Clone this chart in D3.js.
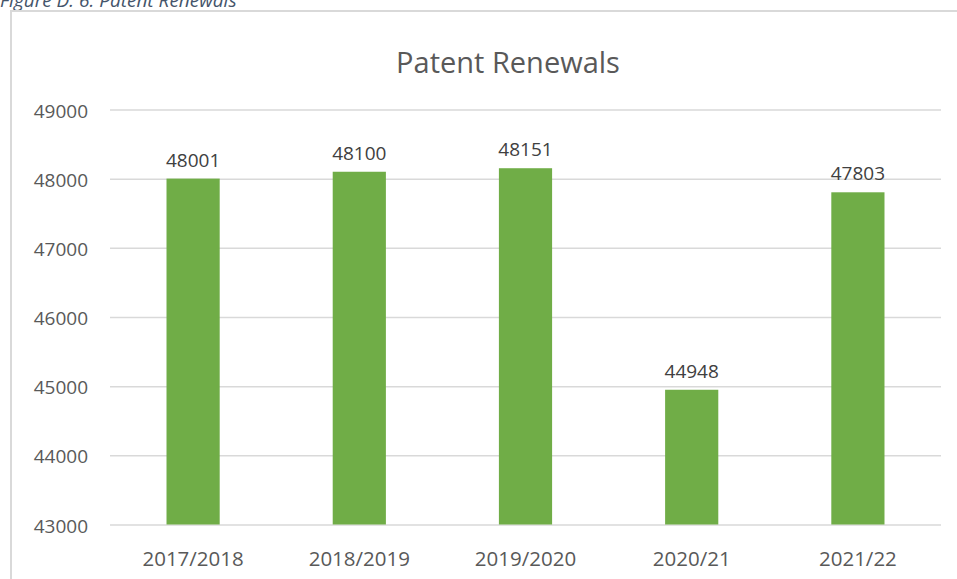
<!DOCTYPE html>
<html>
<head>
<meta charset="utf-8">
<script src="https://cdn.jsdelivr.net/npm/d3@7"></script>
<style>
  body { margin: 0; background: #fff; }
  text { font-family: "Open Sans", "Liberation Sans", sans-serif; }
</style>
</head>
<body>
<div id="chart"></div>
<script>
// Data
const years = ["2017/2018", "2018/2019", "2019/2020", "2020/21", "2021/22"];
const renewals = [48001, 48100, 48151, 44948, 47803];
const yTicks = [43000, 44000, 45000, 46000, 47000, 48000, 49000];

const data = years.map((y, i) => ({ year: y, value: renewals[i] }));

const width = 957, height = 579;
const margins = { top: 109.5, right: 16, bottom: 54.5, left: 110 };

const svg = d3.select("#chart")
  .append("svg")
  .attr("width", width)
  .attr("height", height);

// caption of the figure, cut off at the top
svg.append("text")
  .attr("x", 0)
  .attr("y", 7)
  .style("font-style", "italic")
  .style("font-size", "19px")
  .attr("fill", "#44546A")
  .text("Figure D. 6: Patent Renewals");

// chart frame (right and bottom edges are off the picture)
svg.append("path")
  .attr("d", `M11,${height + 5} V11 H${width + 5}`)
  .attr("fill", "none")
  .attr("stroke", "#d9d9d9")
  .attr("stroke-width", 2);

const xScale = d3.scaleBand()
  .domain(years)
  .range([margins.left, width - margins.right])
  .paddingInner(0.68)
  .paddingOuter(0.34);

const yScale = d3.scaleLinear()
  .domain([43000, 49000])
  .range([height - margins.bottom, margins.top]);

// gridlines + y labels
const yAxis = d3.axisLeft(yScale)
  .tickValues(yTicks)
  .tickFormat(d3.format("d"))
  .tickSize(-(width - margins.right - margins.left))
  .tickPadding(22);

svg.append("g")
  .attr("transform", `translate(${margins.left},0)`)
  .call(yAxis)
  .call(g => g.select(".domain").remove())
  .call(g => g.selectAll(".tick line").attr("stroke", "#d9d9d9").attr("stroke-width", 1.5))
  .call(g => g.selectAll(".tick text")
    .attr("fill", "#595959")
    .style("font-size", "19px")
    .attr("dy", "0.4em")
    .style("font-family", "'Open Sans', sans-serif"));

// bars
svg.append("g")
  .selectAll("rect")
  .data(data)
  .join("rect")
  .attr("x", d => xScale(d.year))
  .attr("y", d => yScale(d.value))
  .attr("width", xScale.bandwidth())
  .attr("height", d => yScale(43000) - yScale(d.value))
  .attr("fill", "#70AD47");

// value labels
svg.append("g")
  .selectAll("text")
  .data(data)
  .join("text")
  .attr("x", d => xScale(d.year) + xScale.bandwidth() / 2)
  .attr("y", d => yScale(d.value) - 12)
  .attr("text-anchor", "middle")
  .attr("fill", "#404040")
  .style("font-size", "19px")
  .text(d => d.value);

// x axis labels
const xAxis = d3.axisBottom(xScale).tickSize(0).tickPadding(27);

svg.append("g")
  .attr("transform", `translate(0,${yScale(43000)})`)
  .call(xAxis)
  .call(g => g.select(".domain").remove())
  .call(g => g.selectAll(".tick text")
    .attr("fill", "#595959")
    .style("font-size", "20.5px")
    .style("font-family", "'Open Sans', sans-serif"));

// title
svg.append("text")
  .attr("x", 508)
  .attr("y", 73)
  .attr("text-anchor", "middle")
  .attr("fill", "#595959")
  .style("font-size", "29px")
  .text("Patent Renewals");
</script>
</body>
</html>
